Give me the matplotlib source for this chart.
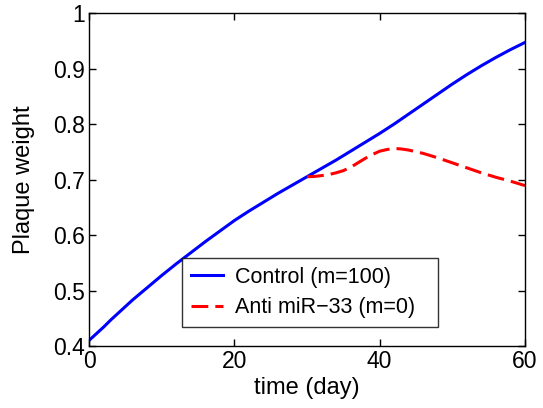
import matplotlib
matplotlib.use("Agg")
import matplotlib.pyplot as plt

plt.rcParams['font.family'] = ['Liberation Sans', 'DejaVu Sans']

# Data
control_t = [0, 1, 2, 3, 4, 5, 6, 7, 8, 9, 10, 12, 14, 16, 18, 20, 22, 24, 26, 28, 30,
             32, 34, 36, 38, 40, 42, 44, 46, 48, 50, 52, 54, 56, 58, 60]
control_y = [0.410, 0.422, 0.434, 0.447, 0.459, 0.471, 0.483, 0.494, 0.505, 0.516, 0.527,
             0.548, 0.568, 0.588, 0.607, 0.626, 0.643, 0.659, 0.675, 0.690, 0.705,
             0.720, 0.735, 0.751, 0.767, 0.783, 0.800, 0.818, 0.836, 0.854, 0.872,
             0.889, 0.905, 0.920, 0.934, 0.947]

anti_t = [30, 31, 32, 33, 34, 35, 36, 37, 38, 39, 40, 41, 42, 43, 44, 45, 46, 48, 50,
          52, 54, 56, 58, 60]
anti_y = [0.705, 0.7055, 0.707, 0.709, 0.712, 0.716, 0.722, 0.730, 0.738, 0.745, 0.751,
          0.754, 0.756, 0.755, 0.753, 0.750, 0.747, 0.739, 0.730, 0.721, 0.712, 0.704,
          0.697, 0.689]

xticks = [0, 20, 40, 60]
yticks = [0.4, 0.5, 0.6, 0.7, 0.8, 0.9, 1.0]
ytick_labels = ['0.4', '0.5', '0.6', '0.7', '0.8', '0.9', '1']

fig = plt.figure(figsize=(5.43, 4.08), dpi=100)
ax = fig.add_axes([89/543, 1-346/408, (525-89)/543, (346-13)/408])

ax.plot(control_t, control_y, color='#0000ff', lw=2.2, label='Control (m=100)')
ax.plot(anti_t, anti_y, color='#ff0000', lw=2.2, dashes=(5.5, 2.3), label='Anti miR\u221233 (m=0)')

ax.set_xlim(0, 60)
ax.set_ylim(0.4, 1.0)
ax.set_xticks(xticks)
ax.set_yticks(yticks)
ax.set_yticklabels(ytick_labels)
ax.tick_params(direction='in', length=5, width=1, top=True, right=True, labelsize=16.5, pad=3)
for s in ax.spines.values():
    s.set_linewidth(1)
ax.set_xlabel('time (day)', fontsize=17, labelpad=3)
ax.set_ylabel('Plaque weight', fontsize=17, labelpad=13)

leg = ax.legend(loc='lower left', bbox_to_anchor=((182-89)/436, (346-327)/333, (438-182)/436, (327-248)/333),
                mode='expand', fontsize=15.5, frameon=True, fancybox=False, handlelength=1.5,
                handletextpad=0.55, borderaxespad=0, labelspacing=0.45, borderpad=0.4)
leg.get_frame().set_edgecolor('black')
leg.get_frame().set_linewidth(1)

fig.savefig('out.png', dpi=100)
